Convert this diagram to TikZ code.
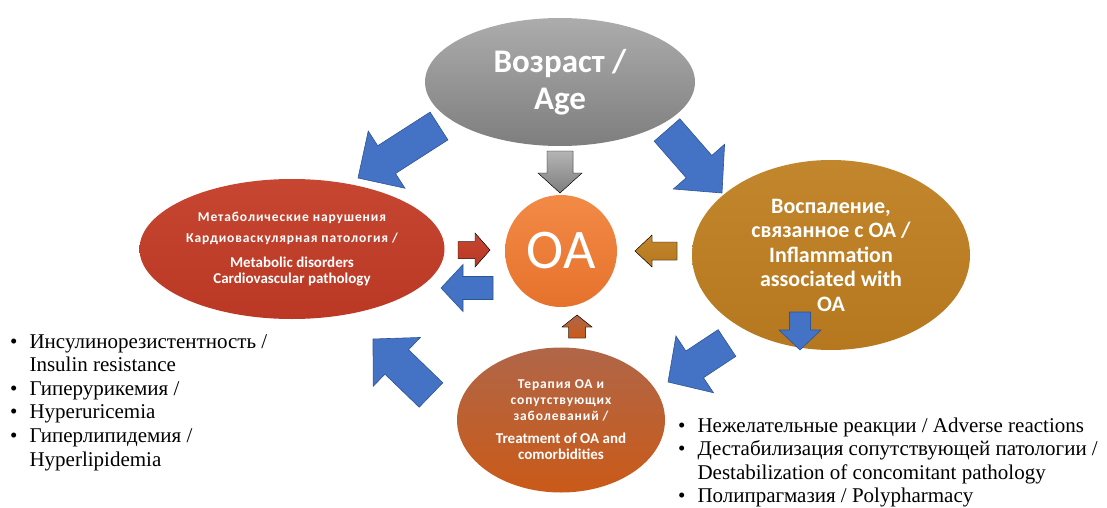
\documentclass[tikz,border=0pt]{standalone}
\usepackage{fontspec}
\setmainfont{Liberation Serif}
\newfontfamily\calibri{Carlito}
\newfontfamily\calibriwide[LetterSpace=6.5]{Carlito}
\usetikzlibrary{shapes.geometric,calc}
\definecolor{oaGrayTop}{RGB}{172,172,172}
\definecolor{oaGrayBot}{RGB}{126,126,126}
\definecolor{oaRedTop}{RGB}{198,70,50}
\definecolor{oaRedBot}{RGB}{186,56,36}
\definecolor{oaOrangeTop}{RGB}{242,138,70}
\definecolor{oaOrangeBot}{RGB}{230,114,44}
\definecolor{oaGoldTop}{RGB}{194,134,44}
\definecolor{oaGoldBot}{RGB}{182,120,30}
\definecolor{oaRustTop}{RGB}{176,102,72}
\definecolor{oaRustBot}{RGB}{202,90,24}
\definecolor{oaBlue}{RGB}{68,114,196}
\definecolor{oaBlueDark}{RGB}{47,84,150}
\tikzset{
    base/.style={font=\calibri\bfseries, align=center, text=white},
    blob/.style={base, ellipse, inner sep=0pt},
    fat/.style={fill=oaBlue, draw=oaBlueDark, line width=0.6pt, line join=miter},
    grayfat/.style={top color=oaGrayTop!90!white, bottom color=oaGrayBot},
    redfat/.style={top color=oaRedTop, bottom color=oaRedBot},
    goldfat/.style={top color=oaGoldTop, bottom color=oaGoldBot},
    rustfat/.style={top color=oaRustTop, bottom color=oaRustBot},
    list/.style={anchor=base west, inner sep=0pt, font=\fontsize{21}{23.6}\selectfont}
}
\newcommand{\ru}[1]{{\calibriwide\bfseries\fontsize{13.5}{16}\selectfont #1}}
% block arrow: [style]{tail}{tip}{half shaft}{half head}{head length}
\newcommand{\fatarrow}[6][fat]{%
  \coordinate (fa) at ($(#3)!#6pt!(#2)$);
  \filldraw[#1] ($(#2)!#4pt!90:(#3)$) -- ($(fa)!#4pt!90:(#3)$) -- ($(fa)!#5pt!90:(#3)$)
    -- (#3) -- ($(fa)!#5pt!-90:(#3)$) -- ($(fa)!#4pt!-90:(#3)$) -- ($(#2)!#4pt!-90:(#3)$) -- cycle;}

\begin{document}
\begin{tikzpicture}[x=1pt,y=-1pt]
  \useasboundingbox (0,0) rectangle (1107,508);

  % factors round OA
  \node[blob, minimum width=270pt, minimum height=128pt, top color=oaGrayTop, bottom color=oaGrayBot,
        font=\calibri\bfseries\fontsize{33}{37}\selectfont] (age) at (560,82) {Возраст /\\Age};
  \node[blob, minimum width=305pt, minimum height=140pt, top color=oaRedTop, bottom color=oaRedBot,
        font=\calibri\bfseries\fontsize{15}{16.5}\selectfont] (metab) at (292,249)
        {\ru{Метаболические нарушения}\\[5pt]
         \ru{Кардиоваскулярная патология /}\\[8pt]
         Metabolic disorders\\ Cardiovascular pathology};
  \node[blob, minimum width=278pt, minimum height=190pt, top color=oaGoldTop, bottom color=oaGoldBot,
        font=\calibri\bfseries\fontsize{22}{24.5}\selectfont] (inflam) at (831,255)
        {Воспаление,\\связанное с ОА /\\Inflammation\\associated with\\OA};
  \node[blob, minimum width=208pt, minimum height=145pt, top color=oaRustTop, bottom color=oaRustBot,
        font=\calibri\bfseries\fontsize{15}{16}\selectfont] (therapy) at (561,420)
        {\ru{Терапия ОА и}\\\ru{сопутствующих}\\
         \ru{заболеваний /}\\[7pt]Treatment of OA and\\comorbidities};
  \node[circle, minimum size=112pt, inner sep=0pt, top color=oaOrangeTop, bottom color=oaOrangeBot,
        text=white, font=\calibri\fontsize{56}{60}\selectfont] (oa) at (561,251) {OA};

  % arrow ends
  \coordinate (ageL0) at (439,126); \coordinate (ageL1) at (358,178);
  \coordinate (ageR0) at (667,130); \coordinate (ageR1) at (722,193);
  \coordinate (ageD0) at (560,151); \coordinate (ageD1) at (560,193);
  \coordinate (metR0) at (458,250); \coordinate (metR1) at (490,250);
  \coordinate (oaL0) at (493,288);  \coordinate (oaL1) at (441,288);
  \coordinate (infL0) at (677,251); \coordinate (infL1) at (635,251);
  \coordinate (thU0) at (577,338);  \coordinate (thU1) at (577,315);
  \coordinate (infD0) at (800,312); \coordinate (infD1) at (800,350);
  \coordinate (thL0) at (431,395);  \coordinate (thL1) at (373,339);
  \coordinate (infB0) at (727,343); \coordinate (infB1) at (668,382);

  % arrows
  \fatarrow{ageL0}{ageL1}{16.5}{34}{34}
  \fatarrow{ageR0}{ageR1}{17}{34}{35}
  \fatarrow[grayfat]{ageD0}{ageD1}{13}{22}{20}
  \fatarrow[redfat]{metR0}{metR1}{8.5}{17}{15}
  \fatarrow{oaL0}{oaL1}{11.5}{23.5}{22}
  \fatarrow[goldfat]{infL0}{infL1}{9}{16}{17}
  \fatarrow[rustfat]{thU0}{thU1}{8.5}{15}{12}
  \fatarrow{infD0}{infD1}{10.5}{21}{20}
  \fatarrow{thL0}{thL1}{17}{34}{33}
  \fatarrow{infB0}{infB1}{16}{34}{32}

  % consequences
  \node[list] (metablist) at (10,348) {%
    \begin{tabular}[t]{@{}l@{\hspace{12pt}}l@{}}
      \textbullet & Инсулинорезистентность /\\
                  & Insulin resistance\\
      \textbullet & Гиперурикемия /\\
      \textbullet & Hyperuricemia\\
      \textbullet & Гиперлипидемия /\\
                  & Hyperlipidemia
    \end{tabular}};
  \node[list] (therlist) at (678,432) {%
    \begin{tabular}[t]{@{}l@{\hspace{12pt}}l@{}}
      \textbullet & Нежелательные реакции / Adverse reactions\\
      \textbullet & Дестабилизация сопутствующей патологии /\\
                  & Destabilization of concomitant pathology\\
      \textbullet & Полипрагмазия / Polypharmacy
    \end{tabular}};
\end{tikzpicture}
\end{document}
